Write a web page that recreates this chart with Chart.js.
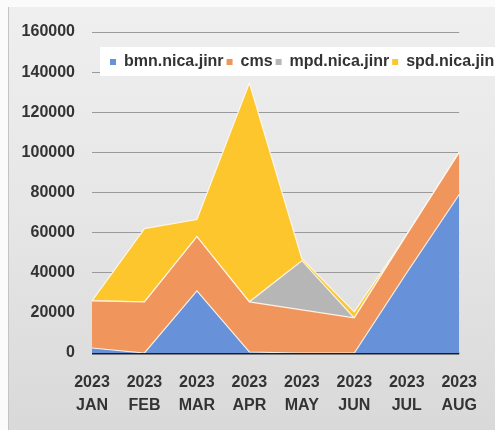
<!DOCTYPE html>
<html>
<head>
<meta charset="utf-8">
<script src="https://cdn.jsdelivr.net/npm/chart.js@4/dist/chart.umd.min.js"></script>
<style>
  html, body { margin: 0; padding: 0; background: #fff; overflow: hidden; }
</style>
</head>
<body>
<canvas id="areaChart" width="495" height="430"></canvas>
<script>
var years = ["2023", "2023", "2023", "2023", "2023", "2023", "2023", "2023"];
var months = ["JAN", "FEB", "MAR", "APR", "MAY", "JUN", "JUL", "AUG"];

var bmn = [2500, 0, 31000, 500, 0, 0, 40000, 79000];
var cms = [23500, 25500, 27000, 25000, 21500, 17500, 19000, 21000];
var mpd = [0, 0, 0, 0, 24500, 0, 0, 0];
var spd = [0, 36500, 8500, 109000, 1000, 3000, 0, 0];

var yTicks = [0, 20000, 40000, 60000, 80000, 100000, 120000, 140000, 160000];

var seriesNames = ["bmn.nica.jinr", "cms", "mpd.nica.jinr", "spd.nica.jinr"];
var seriesColors = ["#6791d8", "#f0955b", "#b6b6b6", "#fcc62c"];

var FONT = "'Liberation Sans', Arial, sans-serif";

// grey photographed panel behind the chart
var panelBg = {
    id: "panelBg",
    beforeDraw: function (chart) {
        var c = chart.ctx;
        c.save();
        c.fillStyle = "#fbfbfb";
        c.fillRect(0, 0, chart.width, chart.height);
        var g = c.createLinearGradient(0, 7, 0, chart.height);
        g.addColorStop(0, "#efefef");
        g.addColorStop(0.5, "#e6e6e6");
        g.addColorStop(1, "#d9d9d9");
        c.fillStyle = g;
        c.fillRect(8, 7, chart.width - 8, chart.height - 7);
        c.strokeStyle = "#c4c4c4";
        c.lineWidth = 1;
        c.beginPath();
        c.moveTo(8.5, 7);
        c.lineTo(8.5, chart.height);
        c.stroke();
        c.restore();
    },
};

// legend sits inside the plot on a white strip and runs off the right edge
var insideLegend = {
    id: "insideLegend",
    afterDatasetsDraw: function (chart) {
        var c = chart.ctx;
        c.save();
        c.fillStyle = "#ffffff";
        c.fillRect(100, 47, chart.width - 100, 29);
        c.font = "bold 16px " + FONT;
        c.textBaseline = "middle";
        var x = 110, y = 62;
        chart.data.datasets.forEach(function (ds) {
            c.fillStyle = ds.backgroundColor;
            c.fillRect(x, y - 3, 6, 6);
            x += 14;
            c.fillStyle = "#333333";
            c.fillText(ds.label, x, y);
            x += c.measureText(ds.label).width + 3;
        });
        c.restore();
    },
};

function areaSet(i, data) {
    return {
        label: seriesNames[i],
        data: data,
        backgroundColor: seriesColors[i],
        borderColor: "rgba(255, 250, 240, 0.9)",
        borderWidth: 1.2,
        pointRadius: 0,
        tension: 0,
        fill: i === 0 ? "origin" : "-1",
    };
}

var ctx = document.getElementById("areaChart").getContext("2d");
var myChart = new Chart(ctx, {
    type: "line",
    data: {
        labels: months.map(function (m, i) { return [years[i], m]; }),
        datasets: [areaSet(0, bmn), areaSet(1, cms), areaSet(2, mpd), areaSet(3, spd)],
    },
    options: {
        responsive: false,
        animation: false,
        devicePixelRatio: 1,
        layout: { padding: { top: 32, right: 35, left: 0, bottom: 0 } },
        plugins: { legend: { display: false }, tooltip: { enabled: false } },
        scales: {
            x: {
                offset: false,
                grid: { display: false, drawTicks: false },
                border: { display: false },
                ticks: {
                    color: "#333333",
                    font: { family: FONT, size: 16, weight: "bold", lineHeight: 1.45 },
                    padding: 18,
                    maxRotation: 0,
                    autoSkip: false,
                },
                afterFit: function (s) { s.height = 77; },
            },
            y: {
                stacked: true,
                min: 0,
                max: 160000,
                afterBuildTicks: function (s) {
                    s.ticks = yTicks.map(function (v) { return { value: v }; });
                },
                grid: {
                    drawTicks: false,
                    color: function (c) { return c.tick && c.tick.value === 0 ? "#1e1e1e" : "#9a9a9a"; },
                    lineWidth: function (c) { return c.tick && c.tick.value === 0 ? 2.5 : 1; },
                },
                border: { display: false },
                ticks: {
                    color: "#333333",
                    font: { family: FONT, size: 16, weight: "bold" },
                    padding: 17,
                    callback: function (v) { return String(v); },
                },
                afterFit: function (s) { s.width = 92; },
            },
        },
    },
    plugins: [panelBg, insideLegend],
});
</script>
</body>
</html>
